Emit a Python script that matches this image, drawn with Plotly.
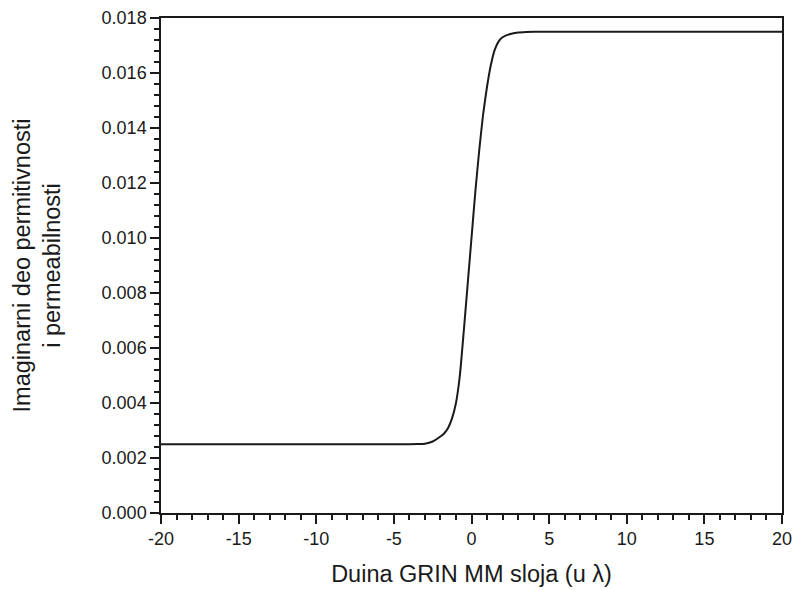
import plotly.graph_objects as go

# Data
x_vals = [-20, -15, -10, -6, -5, -4, -3.5, -3, -2.5, -2, -1.75, -1.5, -1.25, -1,
          -0.75, -0.5, -0.25, 0, 0.25, 0.5, 0.75, 1, 1.25, 1.5, 1.75, 2, 2.5, 3,
          3.5, 4, 5, 6, 10, 15, 20]
y_vals = [0.00250, 0.00250, 0.00250, 0.00250, 0.00250, 0.00250, 0.002505, 0.00252,
          0.00260, 0.00278, 0.00290, 0.00310, 0.00345, 0.00400, 0.00500, 0.00660,
          0.00830, 0.01000, 0.01170, 0.01320, 0.01450, 0.01550, 0.01630, 0.01685,
          0.01715, 0.01730, 0.01742, 0.01747, 0.01749, 0.01750, 0.01750, 0.01750,
          0.01750, 0.01750, 0.01750]

x_tick_vals = [-20, -15, -10, -5, 0, 5, 10, 15, 20]
y_tick_vals = [0.000, 0.002, 0.004, 0.006, 0.008, 0.010, 0.012, 0.014, 0.016, 0.018]

FONT = "Liberation Sans, Arial, sans-serif"
INK = "#1a1a1a"

fig = go.Figure()
fig.add_trace(go.Scatter(
    x=x_vals, y=y_vals, mode="lines",
    line=dict(color=INK, width=2, shape="spline", smoothing=0.5),
    showlegend=False,
))

fig.update_layout(
    width=794, height=590,
    margin=dict(l=161, r=12, t=18, b=77),
    paper_bgcolor="white", plot_bgcolor="white",
    font=dict(family=FONT, color=INK, size=18),
)

fig.update_xaxes(
    range=[-20, 20], automargin=False,
    tickvals=x_tick_vals,
    ticktext=[str(v) for v in x_tick_vals],
    ticks="outside", ticklen=9, tickwidth=1.5, tickcolor=INK,
    minor=dict(ticks="outside", ticklen=5, tickwidth=1.5, tickcolor=INK, dtick=1),
    showline=True, linecolor=INK, linewidth=1.5, mirror=True,
    showgrid=False, zeroline=False,
    tickfont=dict(size=18, family=FONT, color=INK),
    title=dict(text="Duina GRIN MM sloja (u λ)", font=dict(size=23.5, family=FONT, color=INK),
               standoff=17),
)

fig.update_yaxes(
    range=[0, 0.018], automargin=False,
    tickvals=y_tick_vals,
    ticktext=[f"{v:.3f}" for v in y_tick_vals],
    ticks="outside", ticklen=9, tickwidth=1.5, tickcolor=INK,
    minor=dict(ticks="outside", ticklen=5, tickwidth=1.5, tickcolor=INK, dtick=0.0004),
    showline=True, linecolor=INK, linewidth=1.5, mirror=True,
    showgrid=False, zeroline=False,
    tickfont=dict(size=18, family=FONT, color=INK),
    title=dict(text="Imaginarni deo permitivnosti<br>i permeabilnosti",
               font=dict(size=23.5, family=FONT, color=INK), standoff=34),
)

fig.write_html(
    "out.html",
    config={"displayModeBar": False},
    post_script="document.body.style.margin='0';document.body.style.overflow='hidden';",
)
